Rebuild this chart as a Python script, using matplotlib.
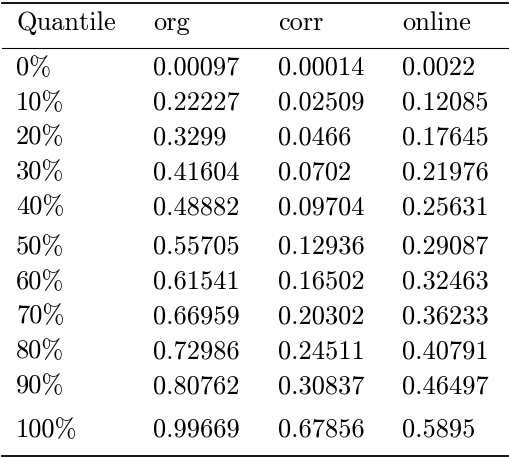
import matplotlib.pyplot as plt

headers = ["Quantile", "org", "corr", "online"]
quantiles = ["0%", "10%", "20%", "30%", "40%", "50%", "60%", "70%", "80%", "90%", "100%"]
org = ["0.00097", "0.22227", "0.3299", "0.41604", "0.48882", "0.55705",
       "0.61541", "0.66959", "0.72986", "0.80762", "0.99669"]
corr = ["0.00014", "0.02509", "0.0466", "0.0702", "0.09704", "0.12936",
        "0.16502", "0.20302", "0.24511", "0.30837", "0.67856"]
online = ["0.0022", "0.12085", "0.17645", "0.21976", "0.25631", "0.29087",
          "0.32463", "0.36233", "0.40791", "0.46497", "0.5895"]

plt.rcParams["font.family"] = ["cmr10", "DejaVu Serif"]
plt.rcParams["font.size"] = 19

W, H = 510, 458
fig = plt.figure(figsize=(W / 100, H / 100), dpi=100)
ax = fig.add_axes([0, 0, 1, 1])
ax.set_xlim(0, W)
ax.set_ylim(H, 0)
ax.axis("off")

col_x = [16, 153, 278, 402]
# row centres: groups of 5, 5, 1 with small extra gaps
row_y = []
y = 68
for i in range(len(quantiles)):
    if i == 5:
        y += 5
    if i == 10:
        y += 9
    row_y.append(y)
    y += 34.8

for x, h in zip(col_x, headers):
    ax.text(x, 23, h, ha="left", va="center")
for i, q in enumerate(quantiles):
    for x, v in zip(col_x, (q, org[i], corr[i], online[i])):
        ax.text(x, row_y[i], v, ha="left", va="center")

ax.plot([2, 508], [3, 3], color="black", lw=1.3)
ax.plot([2, 508], [48, 48], color="black", lw=0.8)
ax.plot([2, 508], [456, 456], color="black", lw=1.3)

fig.savefig("out.png", dpi=100)
